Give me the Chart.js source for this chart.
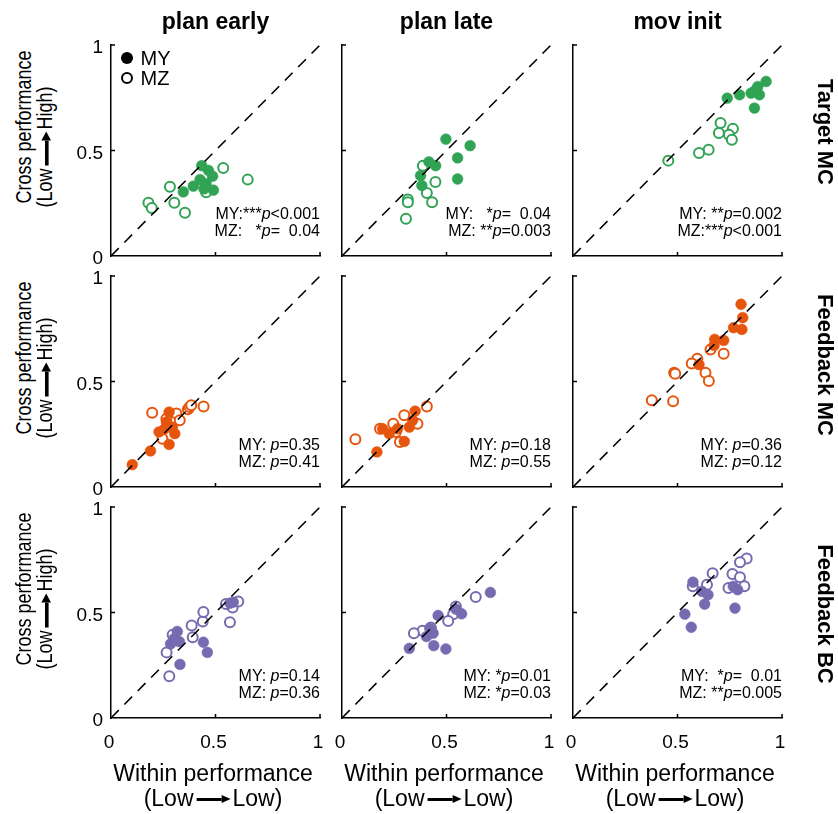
<!DOCTYPE html>
<html>
<head>
<meta charset="utf-8">
<script src="https://cdn.jsdelivr.net/npm/chart.js@4"></script>
<style>
  html,body{margin:0;padding:0;background:#fff;overflow:hidden;}
  body{width:838px;height:814px;position:relative;font-family:"Liberation Sans",Arial,Helvetica,sans-serif;color:#000;}
  canvas{position:absolute;}
  .t{position:absolute;white-space:pre;}
  .arr{display:inline-block;position:relative;width:25px;height:2.6px;background:#000;vertical-align:middle;margin:0 11px 0 3px;}
  .arr::after{content:'';position:absolute;right:-9px;top:50%;transform:translateY(-50%);border-left:9px solid #000;border-top:4px solid transparent;border-bottom:4px solid transparent;}
  .dot{position:absolute;border-radius:50%;box-sizing:border-box;}
</style>
</head>
<body>
<script>
// ---------- data (x = within performance, y = cross performance) ----------
const colTitles = ['plan early', 'plan late', 'mov init'];
const rowTitles = ['Target MC', 'Feedback MC', 'Feedback BC'];
const tickValues = [0, 0.5, 1];
const tickLabels = ['0', '0.5', '1'];
const diagonal = [0, 1];

// Target MC
const tmcEarlyMY = [[0.346,0.304],[0.394,0.331],[0.426,0.362],[0.434,0.428],[0.466,0.406],[0.486,0.378],[0.455,0.343],[0.490,0.312],[0.445,0.318]];
const tmcEarlyMZ = [[0.179,0.252],[0.195,0.228],[0.282,0.328],[0.303,0.252],[0.354,0.205],[0.537,0.417],[0.654,0.362],[0.455,0.302]];
const tmcLateMY  = [[0.497,0.554],[0.613,0.523],[0.553,0.465],[0.553,0.365],[0.416,0.446],[0.448,0.428],[0.376,0.381],[0.382,0.334]];
const tmcLateMZ  = [[0.387,0.428],[0.447,0.351],[0.406,0.299],[0.431,0.255],[0.315,0.268],[0.315,0.255],[0.306,0.176]];
const tmcMovMY   = [[0.924,0.827],[0.884,0.803],[0.868,0.780],[0.852,0.772],[0.892,0.764],[0.797,0.764],[0.738,0.748],[0.868,0.701],[0.876,0.787]];
const tmcMovMZ   = [[0.706,0.630],[0.765,0.603],[0.698,0.583],[0.746,0.575],[0.760,0.551],[0.649,0.504],[0.603,0.488],[0.456,0.452]];
// Feedback MC
const fmcEarlyMY = [[0.102,0.106],[0.189,0.171],[0.230,0.261],[0.278,0.355],[0.265,0.308],[0.294,0.284],[0.305,0.253],[0.278,0.202],[0.257,0.276]];
const fmcEarlyMZ = [[0.197,0.352],[0.313,0.348],[0.329,0.316],[0.368,0.368],[0.376,0.379],[0.384,0.387],[0.443,0.382],[0.265,0.324],[0.246,0.229]];
const fmcLateMY  = [[0.167,0.166],[0.194,0.276],[0.226,0.253],[0.266,0.276],[0.298,0.216],[0.322,0.284],[0.350,0.360],[0.338,0.316]];
const fmcLateMZ  = [[0.064,0.226],[0.182,0.276],[0.245,0.300],[0.298,0.340],[0.361,0.300],[0.406,0.382],[0.277,0.213],[0.258,0.261]];
const fmcMovMY   = [[0.804,0.866],[0.812,0.803],[0.808,0.747],[0.768,0.755],[0.721,0.695],[0.678,0.700],[0.675,0.671],[0.603,0.580]];
const fmcMovMZ   = [[0.721,0.632],[0.658,0.652],[0.595,0.608],[0.568,0.585],[0.634,0.542],[0.650,0.502],[0.484,0.542],[0.489,0.537],[0.377,0.411],[0.479,0.406]];
// Feedback BC
const fbcEarlyMY = [[0.317,0.410],[0.301,0.375],[0.285,0.351],[0.327,0.362],[0.442,0.359],[0.461,0.311],[0.330,0.254],[0.569,0.544],[0.585,0.549]];
const fbcEarlyMZ = [[0.279,0.198],[0.266,0.311],[0.295,0.394],[0.386,0.438],[0.391,0.383],[0.439,0.457],[0.442,0.502],[0.569,0.454],[0.582,0.524],[0.609,0.552],[0.550,0.540]];
const fbcLateMY  = [[0.710,0.595],[0.572,0.494],[0.545,0.516],[0.460,0.486],[0.436,0.402],[0.404,0.386],[0.439,0.343],[0.497,0.327],[0.322,0.330],[0.420,0.425]];
const fbcLateMZ  = [[0.640,0.573],[0.545,0.529],[0.532,0.492],[0.508,0.460],[0.425,0.429],[0.385,0.413],[0.344,0.402]];
const fbcMovMY   = [[0.574,0.644],[0.617,0.600],[0.646,0.584],[0.630,0.540],[0.535,0.492],[0.566,0.430],[0.775,0.521],[0.788,0.608],[0.767,0.624]];
const fbcMovMZ   = [[0.831,0.756],[0.799,0.738],[0.668,0.686],[0.763,0.683],[0.799,0.667],[0.820,0.624],[0.744,0.616],[0.573,0.624],[0.641,0.632]];

// p-value annotations
const statsMY = [['MY:***', '<0.001'], ['MY:   *', '=  0.04'], ['MY: **', '=0.002'],
                 ['MY: ', '=0.35'],   ['MY: ', '=0.18'],     ['MY: ', '=0.36'],
                 ['MY: ', '=0.14'],   ['MY: *', '=0.01'],    ['MY:  *', '=  0.01']];
const statsMZ = [['MZ:   *', '=  0.04'], ['MZ: **', '=0.003'], ['MZ:***', '<0.001'],
                 ['MZ: ', '=0.41'],     ['MZ: ', '=0.55'],    ['MZ: ', '=0.12'],
                 ['MZ: ', '=0.36'],     ['MZ: *', '=0.03'],   ['MZ: **', '=0.005']];

const panelData = [
  [tmcEarlyMY, tmcEarlyMZ], [tmcLateMY, tmcLateMZ], [tmcMovMY, tmcMovMZ],
  [fmcEarlyMY, fmcEarlyMZ], [fmcLateMY, fmcLateMZ], [fmcMovMY, fmcMovMZ],
  [fbcEarlyMY, fbcEarlyMZ], [fbcLateMY, fbcLateMZ], [fbcMovMY, fbcMovMZ]
];
const rowColors = ['#31a354', '#e6550d', '#756bb1'];

// ---------- layout ----------
const FONT = '"Liberation Sans", Arial, Helvetica, sans-serif';
const colLefts = [111, 342, 573];
const rowTops = [45, 276, 507];
const plotW = 209, plotH = 211;
const padL = 45, padT = 12, padR = 12, padB = 45;

function addText(html, left, top, css) {
  const d = document.createElement('div');
  d.className = 't';
  d.innerHTML = html;
  d.style.left = left + 'px';
  d.style.top = top + 'px';
  Object.assign(d.style, css || {});
  document.body.appendChild(d);
  return d;
}

const innerTicks = {
  id: 'innerTicks',
  afterDraw(chart) {
    const {ctx, scales: {x, y}} = chart;
    ctx.save();
    ctx.strokeStyle = '#000';
    ctx.lineWidth = 1.5;
    ctx.beginPath();
    tickValues.forEach(v => {
      if (v === 0) return;
      const px = x.getPixelForValue(v);
      ctx.moveTo(px, y.bottom); ctx.lineTo(px, y.bottom - 4);
      const py = y.getPixelForValue(v);
      ctx.moveTo(x.left, py); ctx.lineTo(x.left + 4, py);
    });
    ctx.stroke();
    ctx.restore();
  }
};

function tickCb(v) {
  const i = tickValues.indexOf(v);
  return i >= 0 ? tickLabels[i] : '';
}
function noPad(s) { s.paddingLeft = 0; s.paddingRight = 0; s.paddingTop = 0; s.paddingBottom = 0; }

for (let r = 0; r < 3; r++) {
  for (let c = 0; c < 3; c++) {
    const idx = r * 3 + c;
    const color = rowColors[r];
    const [my, mz] = panelData[idx];
    const cv = document.createElement('canvas');
    cv.width = padL + plotW + padR;
    cv.height = padT + plotH + padB;
    cv.style.left = (colLefts[c] - padL) + 'px';
    cv.style.top = (rowTops[r] - padT) + 'px';
    document.body.appendChild(cv);
    new Chart(cv, {
      type: 'scatter',
      data: {
        datasets: [
          { data: diagonal.map(v => ({x: v, y: v})), showLine: true, borderColor: '#000', borderWidth: 1.6,
            borderDash: [11, 8], pointRadius: 0, clip: false },
          { data: my.map(p => ({x: p[0], y: p[1]})), pointRadius: 5.4, pointBackgroundColor: color,
            pointBorderColor: color, pointBorderWidth: 0.5 },
          { data: mz.map(p => ({x: p[0], y: p[1]})), pointRadius: 5, pointBackgroundColor: '#fff',
            pointBorderColor: color, pointBorderWidth: 2 }
        ]
      },
      options: {
        responsive: false, animation: false, devicePixelRatio: 1,
        layout: { padding: { left: 0, top: padT, right: padR, bottom: 0 } },
        plugins: { legend: { display: false }, tooltip: { enabled: false } },
        scales: {
          x: { type: 'linear', min: 0, max: 1,
               grid: { display: false, drawTicks: false },
               border: { display: true, color: '#000', width: 1.5 },
               ticks: { display: r === 2, stepSize: 0.5, padding: 13, labelOffset: -2, maxRotation: 0,
                        color: '#000', font: { family: FONT, size: 19 }, callback: tickCb },
               afterFit: s => { s.height = padB; noPad(s); } },
          y: { type: 'linear', min: 0, max: 1,
               grid: { display: false, drawTicks: false },
               border: { display: true, color: '#000', width: 1.5 },
               ticks: { display: c === 0, stepSize: 0.5, padding: 8, labelOffset: 3,
                        color: '#000', font: { family: FONT, size: 19 }, callback: tickCb },
               afterFit: s => { s.width = padL; noPad(s); } }
        }
      },
      plugins: [innerTicks]
    });

    // p-value annotations
    const right = colLefts[c] + plotW;
    const bottom = rowTops[r] + plotH;
    const fmt = s => s[0] + '<i>p</i>' + s[1].replace('<', '&lt;');
    const css = {fontSize: '16px', lineHeight: '16px', left: '', right: (838 - right) + 'px'};
    addText(fmt(statsMY[idx]), 0, bottom - 36.5 - 13.5, css);
    addText(fmt(statsMZ[idx]), 0, bottom - 19.5 - 13.5, css);
  }
}

// column titles
colTitles.forEach((t, c) => {
  addText(t, colLefts[c] + plotW / 2, 9.5, {fontSize: '23px', lineHeight: '23px', fontWeight: 'bold', transform: 'translateX(-50%)'});
});
// row titles (rotated clockwise)
const rowLabelCenters = [132, 365, 614];
rowTitles.forEach((t, r) => {
  addText(t, 824.6, rowLabelCenters[r], {fontSize: '22px', lineHeight: '22px', fontWeight: 'bold',
    transform: 'translate(-50%,-50%) rotate(90deg)'});
});
// y axis labels
rowTops.forEach(top => {
  addText('Cross performance', 23.5, top + 82, {fontSize: '18px', lineHeight: '18px', transform: 'translate(-50%,-50%) rotate(-90deg) scale(1,1.2)'});
  addText('(Low<span class="arr"></span>High)', 44.5, top + 102, {fontSize: '18px', lineHeight: '18px', transform: 'translate(-50%,-50%) rotate(-90deg) scale(1,1.2)'});
});
// x axis labels
colLefts.forEach(left => {
  addText('Within performance', left + 102, 781 - 19.5, {fontSize: '23px', lineHeight: '23px', transform: 'translateX(-50%)'});
  addText('(Low<span class="arr"></span>Low)', left + 102, 806 - 19.5, {fontSize: '23px', lineHeight: '23px', transform: 'translateX(-50%)'});
});

// legend (first panel)
function dot(cx, cy, r, filled) {
  const d = document.createElement('div');
  d.className = 'dot';
  d.style.left = (cx - r) + 'px'; d.style.top = (cy - r) + 'px';
  d.style.width = (2 * r) + 'px'; d.style.height = (2 * r) + 'px';
  if (filled) d.style.background = '#000'; else d.style.border = '2px solid #000';
  document.body.appendChild(d);
}
dot(127, 58.3, 6.2, true);
dot(127, 78.3, 6, false);
addText('MY', 140.5, 65 - 16.9, {fontSize: '20px', lineHeight: '20px'});
addText('MZ', 140.5, 85 - 16.9, {fontSize: '20px', lineHeight: '20px'});
</script>
</body>
</html>
